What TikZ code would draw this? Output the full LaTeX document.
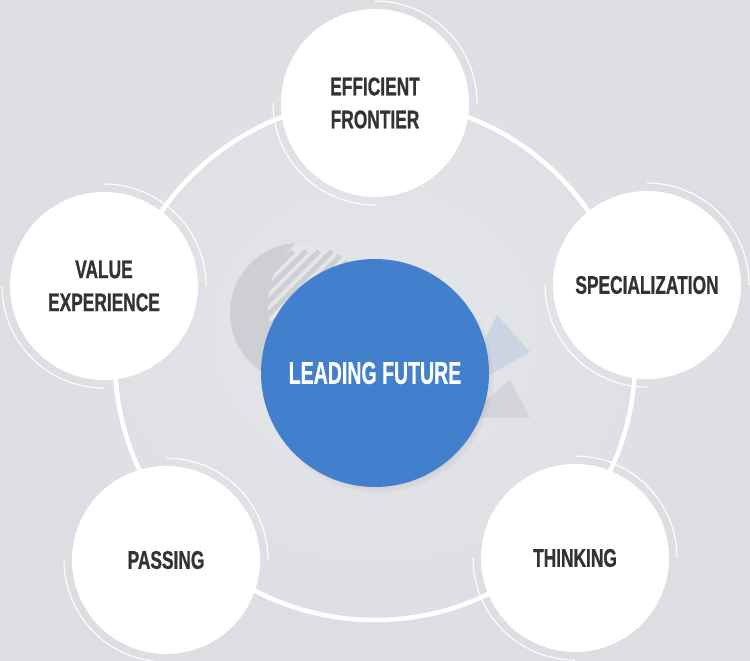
\documentclass[tikz,border=0pt]{standalone}
\usepackage{fontspec}
\usepackage{xcolor}
\usepackage{tikz}
\usetikzlibrary{shadows}

\newfontfamily\labelfont[FakeStretch=0.68, FakeBold=0.8]{Liberation Sans}
\newfontfamily\leadfont[FakeStretch=0.62, FakeBold=0.6]{Liberation Sans}

\definecolor{bglight}{RGB}{229,230,233}
\definecolor{bgdark}{RGB}{221,222,226}
\definecolor{decogray}{RGB}{206,207,210}
\definecolor{leadblue}{RGB}{66,127,204}
\definecolor{labelgray}{RGB}{51,51,51}
\definecolor{triblue}{RGB}{203,213,225}
\definecolor{trigray}{RGB}{212,213,217}

\begin{document}
\begin{tikzpicture}[
  x=1pt, y=1pt,
  outer/.style={circle, fill=white, minimum size=188pt, inner sep=0pt,
                align=center, text=labelgray,
                font=\labelfont\bfseries\fontsize{25.5}{33}\selectfont},
  leadcircle/.style={circle, fill=leadblue, minimum size=228pt, inner sep=0pt,
                     text=white, font=\leadfont\bfseries\fontsize{31.5}{36}\selectfont,
                     circular drop shadow={shadow xshift=3pt, shadow yshift=-4pt,
                                           shadow scale=1.02, opacity=0.35}},
  ring/.style={white, line width=4.5pt},
  halo/.style={white, line width=1.1pt},
  stripe/.style={decogray, line width=5pt},
]

\useasboundingbox (0,0) rectangle (750,661);
\shade[inner color=bglight, outer color=bgdark] (0,0) rectangle (750,661);

\coordinate (deco) at (300,348);
\fill[decogray] (deco) circle[radius=70];
\begin{scope}
  \clip (deco) circle[radius=70];
  \clip (350,356) circle[radius=82];
  \fill[bglight] (200,250) rectangle (400,450);
  \foreach \x in {100,113,...,400}
    \draw[stripe] (\x,230) -- ++(180,180);
\end{scope}

\fill[triblue] (497,346) -- (530,309) -- (460,269) -- cycle;
\fill[trigray] (510,281) -- (530,243) -- (465,243) -- cycle;

\coordinate (hub) at (375,301);
\draw[ring] (hub) circle[radius=260];

\node[leadcircle] (lead) at (375,288) {LEADING FUTURE};

\node[outer] (frontier) at (375,558) {EFFICIENT\\FRONTIER};
\node[outer] (valuexp) at (104,375) {VALUE\\EXPERIENCE};
\node[outer] (special) at (647,376) {SPECIALIZATION};
\node[outer] (passing) at (166,101) {PASSING};
\node[outer] (thinking) at (575,103) {THINKING};

\draw[halo] (frontier.center) ++(90:102) arc[start angle=90, end angle=0, radius=102];
\draw[halo] (frontier.center) ++(180:102) arc[start angle=180, end angle=270, radius=102];
\draw[halo] (valuexp.center) ++(90:102) arc[start angle=90, end angle=0, radius=102];
\draw[halo] (valuexp.center) ++(180:102) arc[start angle=180, end angle=270, radius=102];
\draw[halo] (special.center) ++(90:102) arc[start angle=90, end angle=0, radius=102];
\draw[halo] (special.center) ++(180:102) arc[start angle=180, end angle=270, radius=102];
\draw[halo] (passing.center) ++(90:102) arc[start angle=90, end angle=0, radius=102];
\draw[halo] (passing.center) ++(180:102) arc[start angle=180, end angle=270, radius=102];
\draw[halo] (thinking.center) ++(90:102) arc[start angle=90, end angle=0, radius=102];
\draw[halo] (thinking.center) ++(180:102) arc[start angle=180, end angle=270, radius=102];

\end{tikzpicture}
\end{document}
